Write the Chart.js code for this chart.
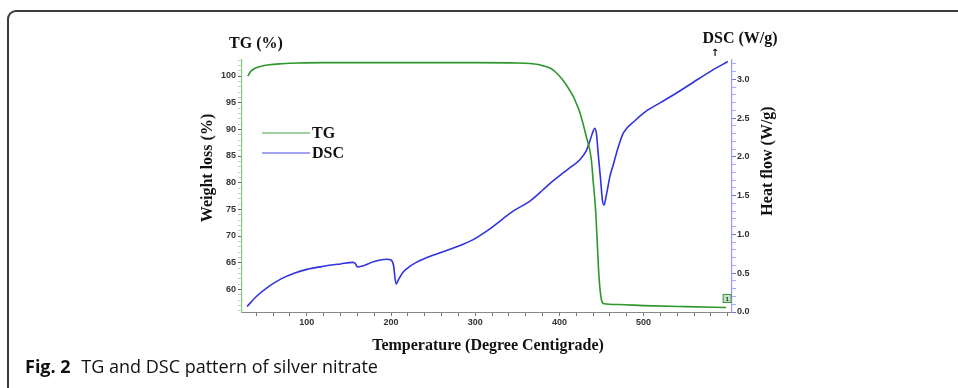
<!DOCTYPE html>
<html>
<head>
<meta charset="utf-8">
<script src="https://cdn.jsdelivr.net/npm/chart.js@4.4.0/dist/chart.umd.min.js"></script>
<style>
  html, body { margin: 0; padding: 0; background: #fff; width: 958px; height: 388px; overflow: hidden; }
  #frame {
    position: absolute; left: 7px; top: 10px; width: 1000px; height: 500px;
    border-top: 2px solid #3c3c3c; border-left: 2px solid #3c3c3c;
    border-top-left-radius: 9px; box-sizing: border-box;
  }
  #chart { position: absolute; left: 0; top: 0; }
  #caption {
    position: absolute; left: 25px; top: 354px;
    font-family: "Open Sans", sans-serif; font-size: 18px; color: #111; white-space: nowrap;
  }
  #caption b { font-weight: 700; margin-right: 6px; }
</style>
</head>
<body>
<div id="frame"></div>
<canvas id="chart" width="958" height="388"></canvas>
<div id="caption"><b>Fig. 2</b> TG and DSC pattern of silver nitrate</div>
<script>
// Thermogravimetric curve: temperature (°C) and remaining weight (%)
const tgTemp = [30, 33, 38, 45, 55, 70, 90, 120, 200, 300, 350, 365, 375, 380, 385, 390, 395, 400, 404, 410, 416, 420, 424, 432, 438, 440, 443, 445, 447, 450, 453, 470, 500, 550, 598];
const tgWeight = [100.0, 100.8, 101.4, 101.8, 102.1, 102.3, 102.45, 102.5, 102.5, 102.5, 102.45, 102.35, 102.15, 101.95, 101.75, 101.4, 100.8, 100.0, 99.25, 97.9, 96.3, 94.9, 93.3, 88.6, 84.25, 80.5, 74.9, 68.7, 62.4, 58.0, 57.3, 57.15, 56.95, 56.75, 56.6];

// Differential scanning calorimetry curve: temperature (°C) and heat flow (W/g)
const dscTemp = [29, 40, 55, 70, 85, 100, 120, 140, 155, 158, 160, 165, 180, 195, 200, 203, 206, 209, 214, 220, 230, 240, 260, 278, 297, 317, 345, 365, 380, 389, 404, 415, 424, 432, 436, 440, 442, 444, 446, 449, 451, 453, 456, 460, 464, 470, 476, 490, 503, 520, 543, 560, 582, 600];
const dscHeat = [0.07, 0.20, 0.33, 0.43, 0.50, 0.55, 0.59, 0.62, 0.64, 0.62, 0.58, 0.59, 0.65, 0.68, 0.67, 0.60, 0.36, 0.42, 0.51, 0.57, 0.64, 0.69, 0.77, 0.84, 0.93, 1.07, 1.30, 1.43, 1.57, 1.66, 1.79, 1.88, 1.96, 2.08, 2.20, 2.33, 2.37, 2.30, 2.05, 1.70, 1.45, 1.38, 1.52, 1.75, 1.90, 2.13, 2.31, 2.47, 2.59, 2.70, 2.85, 2.97, 3.12, 3.23];

// Labelled tick values
const tempTickLabels = [100, 200, 300, 400, 500];
const weightTickLabels = [60, 65, 70, 75, 80, 85, 90, 95, 100];
const heatTickLabels = [0.0, 0.5, 1.0, 1.5, 2.0, 2.5, 3.0];

const seriesNames = ['TG', 'DSC'];
const xTitle = 'Temperature (Degree Centigrade)';
const yTitle = 'Weight loss (%)';
const y1Title = 'Heat flow (W/g)';
const yHeader = 'TG (%)';
const y1Header = 'DSC (W/g)';

const TG_COLOR = 'rgb(45,150,45)';
const DSC_COLOR = 'rgb(50,50,225)';

function minorRange(lo, hi, step) {
  const out = [];
  const n = Math.round((hi - lo) / step);
  for (let i = 0; i <= n; i++) out.push(+(lo + i * step).toFixed(3));
  return out;
}
const near = (arr, v) => arr.some(a => Math.abs(a - v) < 1e-6);

const tickFont = { family: 'Liberation Sans', size: 9, weight: 'bold' };

const decorations = {
  id: 'decorations',
  afterDraw(chart) {
    const { ctx, chartArea: a } = chart;
    ctx.save();
    ctx.fillStyle = '#111';
    ctx.textAlign = 'center';
    ctx.textBaseline = 'middle';
    ctx.font = 'bold 16px "Liberation Serif", serif';
    ctx.fillText(yHeader, a.left + 14, a.top - 16);
    ctx.fillText(y1Header, a.right + 8, a.top - 21);
    ctx.font = 'bold 10px "DejaVu Sans", sans-serif';
    ctx.fillText('\u2191', a.right - 17, a.top - 7);
    ctx.font = 'bold 16px "Liberation Serif", serif';
    ctx.fillText(xTitle, (a.left + a.right) / 2 + 1, a.bottom + 34);
    ctx.save();
    ctx.translate(a.left - 34, a.top + 108);
    ctx.rotate(-Math.PI / 2);
    ctx.fillText(yTitle, 0, 0);
    ctx.restore();
    ctx.save();
    ctx.translate(a.right + 36, a.top + 101);
    ctx.rotate(-Math.PI / 2);
    ctx.fillText(y1Title, 0, 0);
    ctx.restore();

    // legend
    const lx = a.left + 20, ly = a.top + 73;
    chart.data.datasets.forEach((ds, i) => {
      const y = ly + i * 20;
      ctx.strokeStyle = ds.borderColor;
      ctx.globalAlpha = 0.6;
      ctx.lineWidth = 1.5;
      ctx.beginPath();
      ctx.moveTo(lx, y);
      ctx.lineTo(lx + 48, y);
      ctx.stroke();
      ctx.globalAlpha = 1;
      ctx.textAlign = 'left';
      ctx.font = 'bold 16px "Liberation Serif", serif';
      ctx.fillStyle = '#111';
      ctx.fillText(ds.label, lx + 50, y + 1);
    });

    // end-point marker on the TG trace
    const meta = chart.getDatasetMeta(0);
    const last = meta.data[meta.data.length - 1];
    const bx = last.x + 1, by = last.y - 9;
    ctx.fillStyle = 'rgb(200,230,200)';
    ctx.strokeStyle = 'rgb(60,140,60)';
    ctx.lineWidth = 1;
    ctx.fillRect(bx - 4, by - 4, 8, 8);
    ctx.strokeRect(bx - 4, by - 4, 8, 8);
    ctx.fillStyle = '#222';
    ctx.textAlign = 'center';
    ctx.font = 'bold 6px "Liberation Sans", sans-serif';
    ctx.fillText('1', bx, by + 0.5);
    ctx.restore();
  }
};

new Chart(document.getElementById('chart'), {
  type: 'line',
  data: {
    datasets: [
      {
        label: seriesNames[0],
        data: tgTemp.map((t, i) => ({ x: t, y: tgWeight[i] })),
        borderColor: TG_COLOR,
        borderWidth: 1.6,
        pointRadius: 0,
        cubicInterpolationMode: 'monotone',
        yAxisID: 'y'
      },
      {
        label: seriesNames[1],
        data: dscTemp.map((t, i) => ({ x: t, y: dscHeat[i] })),
        borderColor: DSC_COLOR,
        borderWidth: 1.6,
        pointRadius: 0,
        cubicInterpolationMode: 'monotone',
        yAxisID: 'y1'
      }
    ]
  },
  options: {
    responsive: false,
    animation: false,
    devicePixelRatio: 1,
    layout: { padding: { left: 200, right: 176, top: 60, bottom: 50 } },
    plugins: { legend: { display: false }, tooltip: { enabled: false } },
    scales: {
      x: {
        type: 'linear',
        min: 23, max: 605,
        afterBuildTicks: s => { s.ticks = minorRange(40, 600, 20).map(v => ({ value: v })); },
        afterFit: s => { s.height = 26; },
        ticks: {
          autoSkip: false, maxRotation: 0, padding: 1,
          font: tickFont, color: '#333',
          callback: v => near(tempTickLabels, v) ? String(v) : ''
        },
        grid: { drawOnChartArea: false, tickLength: 4, color: '#777' },
        border: { color: '#888', width: 1 }
      },
      y: {
        position: 'left',
        min: 55.75, max: 103,
        afterBuildTicks: s => { s.ticks = minorRange(56, 103, 1).map(v => ({ value: v })); },
        afterFit: s => { s.width = 42; },
        ticks: {
          autoSkip: false, padding: 2,
          font: tickFont, color: '#333',
          callback: v => near(weightTickLabels, v) ? String(v) : ''
        },
        grid: {
          drawOnChartArea: false, tickLength: 4,
          color: c => near(weightTickLabels, c.tick.value) ? '#666' : '#b8dcb8'
        },
        border: { color: 'rgb(130,205,130)', width: 1.2 }
      },
      y1: {
        position: 'right',
        min: 0, max: 3.25,
        afterBuildTicks: s => { s.ticks = minorRange(0, 3.2, 0.1).map(v => ({ value: v })); },
        afterFit: s => { s.width = 50; },
        ticks: {
          autoSkip: false, padding: 1,
          font: tickFont, color: '#333',
          callback: v => near(heatTickLabels, v) ? v.toFixed(1) : ''
        },
        grid: {
          drawOnChartArea: false, tickLength: 4,
          color: c => near(heatTickLabels, c.tick.value) ? 'rgb(110,110,230)' : 'rgb(170,170,250)'
        },
        border: { color: 'rgb(150,150,255)', width: 1.2 }
      }
    }
  },
  plugins: [decorations]
});
</script>
</body>
</html>
